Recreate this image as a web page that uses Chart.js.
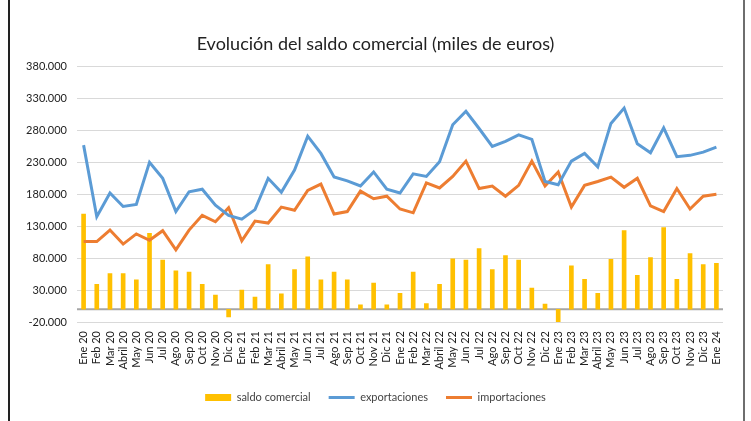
<!DOCTYPE html>
<html>
<head>
<meta charset="utf-8">
<script src="https://cdn.jsdelivr.net/npm/chart.js@4.4.1/dist/chart.umd.min.js"></script>
<style>
  html, body { margin: 0; padding: 0; background: #fff; }
  #wrap { position: relative; width: 751px; height: 421px; }
  #frame { position: absolute; left: 8px; top: 0; width: 737px; height: 421px;
           border-left: 2px solid #222; border-right: 2px solid #6e6e6e; box-sizing: border-box; pointer-events: none; }
</style>
</head>
<body>
<div id="wrap">
  <canvas id="saldoChart" width="751" height="421"></canvas>
  <div id="frame"></div>
</div>
<script>
const meses = [
  'Ene 20','Feb 20','Mar 20','Abril 20','May 20','Jun 20','Jul 20','Ago 20','Sep 20','Oct 20','Nov 20','Dic 20',
  'Ene 21','Feb 21','Mar 21','Abril 21','May 21','Jun 21','Jul 21','Ago 21','Sep 21','Oct 21','Nov 21','Dic 21',
  'Ene 22','Feb 22','Mar 22','Abril 22','May 22','Jun 22','Jul 22','Ago 22','Sep 22','Oct 22','Nov 22','Dic 22',
  'Ene 23','Feb 23','Mar 23','Abril 23','May 23','Jun 23','Jul 23','Ago 23','Sep 23','Oct 23','Nov 23','Dic 23',
  'Ene 24'
];

const exportaciones = [
  257000, 145000, 182000, 161000, 164000, 230000, 205000, 153000, 184000, 188000, 163000, 147000,
  141000, 156000, 205000, 183000, 218000, 271000, 244000, 207000, 201000, 193000, 215000, 188000,
  182000, 212000, 208000, 231000, 289000, 310000, 283000, 255000, 263000, 273000, 266000, 200000,
  195000, 232000, 244000, 223000, 291000, 315000, 259000, 245000, 284000, 239000, 241000, 246000,
  254000
];

const importaciones = [
  106000, 106000, 124000, 102000, 118000, 108000, 123000, 93000, 124000, 147000, 137000, 159000,
  107000, 138000, 135000, 160000, 155000, 186000, 196000, 149000, 153000, 185000, 173000, 177000,
  157000, 151000, 198000, 190000, 208000, 232000, 189000, 193000, 177000, 194000, 232000, 193000,
  215000, 160000, 194000, 200000, 207000, 191000, 205000, 162000, 153000, 189000, 157000, 177000,
  180000
];

const saldo = [
  149000, 39000, 56000, 56000, 46000, 119000, 77000, 60000, 58000, 39000, 22000, -12000,
  30000, 19000, 70000, 24000, 62000, 82000, 46000, 58000, 46000, 7000, 41000, 7000,
  25000, 58000, 9000, 39000, 79000, 77000, 95000, 62000, 84000, 77000, 33000, 8000,
  -20000, 68000, 47000, 25000, 78000, 123000, 53000, 81000, 128000, 47000, 87000, 70000,
  72000
];

const FONT = 'Lato, "Open Sans", sans-serif';

function miles(v) {
  const s = Math.abs(v).toString().replace(/\B(?=(\d{3})+(?!\d))/g, '.');
  return (v < 0 ? '-' : '') + s;
}

// linea gris del eje en el valor 0
const lineaCero = {
  id: 'lineaCero',
  beforeDatasetsDraw(chart) {
    const { ctx, chartArea, scales } = chart;
    const y = scales.y.getPixelForValue(0);
    ctx.save();
    ctx.strokeStyle = '#a6a6a6';
    ctx.lineWidth = 2;
    ctx.beginPath();
    ctx.moveTo(chartArea.left, y);
    ctx.lineTo(chartArea.right, y);
    ctx.stroke();
    ctx.restore();
  }
};

const ctx = document.getElementById('saldoChart').getContext('2d');

new Chart(ctx, {
  data: {
    labels: meses,
    datasets: [
      {
        type: 'bar',
        label: 'saldo comercial',
        data: saldo,
        backgroundColor: '#FFC000',
        barThickness: 4,
        order: 2
      },
      {
        type: 'line',
        label: 'exportaciones',
        data: exportaciones,
        borderColor: '#5B9BD5',
        backgroundColor: '#5B9BD5',
        borderWidth: 3,
        pointRadius: 0,
        tension: 0,
        order: 1
      },
      {
        type: 'line',
        label: 'importaciones',
        data: importaciones,
        borderColor: '#ED7D31',
        backgroundColor: '#ED7D31',
        borderWidth: 3,
        pointRadius: 0,
        tension: 0,
        order: 1
      }
    ]
  },
  options: {
    responsive: false,
    animation: false,
    layout: { padding: { left: 0, right: 0, top: 0, bottom: 8 } },
    scales: {
      x: {
        grid: { display: false, drawTicks: false },
        border: { display: false },
        ticks: {
          autoSkip: false,
          minRotation: 90,
          maxRotation: 90,
          padding: 9,
          color: '#222',
          font: { family: FONT, size: 11 }
        },
        afterFit(scale) { scale.height = 52; }
      },
      y: {
        min: -20000,
        max: 380000,
        grid: { color: '#d9d9d9', lineWidth: 1, drawTicks: false },
        border: { display: false },
        ticks: {
          stepSize: 50000,
          padding: 10,
          color: '#222',
          font: { family: FONT, size: 11 },
          callback: (v) => miles(v)
        },
        afterFit(scale) { scale.width = 77; }
      },
      // eje vacio a la derecha solo para reservar el margen
      yDer: {
        position: 'right',
        grid: { display: false, drawTicks: false },
        border: { display: false },
        ticks: { display: false },
        afterFit(scale) { scale.width = 28; }
      }
    },
    plugins: {
      title: {
        display: true,
        text: 'Evolución del saldo comercial (miles de euros)',
        color: '#222',
        font: { family: FONT, size: 18, weight: 'normal' },
        padding: { top: 33, bottom: 12 }
      },
      legend: {
        position: 'bottom',
        labels: {
          usePointStyle: true,
          pointStyleWidth: 26,
          boxHeight: 7,
          padding: 18,
          color: '#444',
          font: { family: FONT, size: 11 },
          sort: (a, b) => a.datasetIndex - b.datasetIndex,
          generateLabels(chart) {
            const items = Chart.defaults.plugins.legend.labels.generateLabels(chart);
            items.forEach((it) => {
              const ds = chart.data.datasets[it.datasetIndex];
              if (ds.type === 'bar') {
                it.pointStyle = 'rect';
                it.lineWidth = 0;
              } else {
                it.pointStyle = 'line';
                it.lineWidth = 3;
                it.strokeStyle = ds.borderColor;
              }
            });
            return items;
          }
        }
      },
      tooltip: { enabled: false }
    }
  },
  plugins: [lineaCero]
});
</script>
</body>
</html>
